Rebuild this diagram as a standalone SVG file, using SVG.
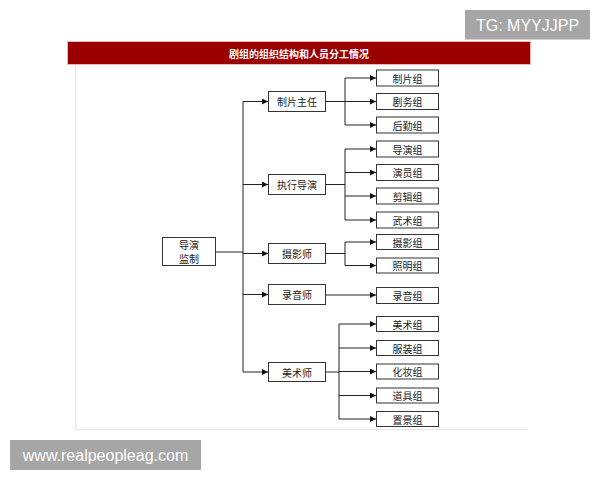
<svg xmlns="http://www.w3.org/2000/svg" width="600" height="480" viewBox="0 0 600 480">
<defs>
<marker id="arr" viewBox="0 0 8 8" refX="8" refY="4" markerWidth="6" markerHeight="6" markerUnits="userSpaceOnUse" orient="auto"><path d="M0,0 L8,4 L0,8 Z" fill="#111"/></marker>
<style>
.box{fill:#fff;stroke:#333;stroke-width:1}
.t{font-family:"Noto Sans CJK SC","Liberation Sans",sans-serif;font-size:10px;fill:#222;text-anchor:middle;dominant-baseline:central}
.c{fill:none;stroke:#222;stroke-width:1}
.a{marker-end:url(#arr)}
.wm{font-family:"Liberation Sans",Arial,sans-serif;fill:#fff}
</style>
</defs>
<rect width="600" height="480" fill="#fff"/>
<g id="frame">
<line x1="75.5" y1="65" x2="75.5" y2="429.5" stroke="#e6e6e6" stroke-width="1"/>
<line x1="75.5" y1="429.5" x2="528" y2="429.5" stroke="#e6e6e6" stroke-width="1"/>
</g>
<g id="title">
<rect x="67.5" y="41.5" width="463" height="23" fill="#9a0000" stroke="#f3b5b5" stroke-width="1"/>
<text x="299" y="53" font-family="Noto Sans CJK SC,sans-serif" font-size="10" font-weight="bold" fill="#fff" text-anchor="middle" dominant-baseline="central">剧组的组织结构和人员分工情况</text>
</g>
<g id="connectors">
<path class="c" d="M216,252 H243"/>
<path class="c" d="M243,101.5 V372"/>
<path class="c a" d="M243,101.5 H268"/>
<path class="c a" d="M243,184.5 H268"/>
<path class="c a" d="M243,253.5 H268"/>
<path class="c a" d="M243,294.5 H268"/>
<path class="c a" d="M243,372 H268"/>
<path class="c" d="M326,101.5 H345 M345,78 V125"/>
<path class="c a" d="M345,78 H376"/>
<path class="c a" d="M345,101.5 H376"/>
<path class="c a" d="M345,125 H376"/>
<path class="c" d="M326,184.5 H345 M345,149 V220"/>
<path class="c a" d="M345,149 H376"/>
<path class="c a" d="M345,172.5 H376"/>
<path class="c a" d="M345,196 H376"/>
<path class="c a" d="M345,220 H376"/>
<path class="c" d="M326,253.5 H345 M345,242 V265.5"/>
<path class="c a" d="M345,242 H376"/>
<path class="c a" d="M345,265.5 H376"/>
<path class="c a" d="M326,295 H376"/>
<path class="c" d="M326,372 H339 M339,324 V419"/>
<path class="c a" d="M339,324 H376"/>
<path class="c a" d="M339,348 H376"/>
<path class="c a" d="M339,371.5 H376"/>
<path class="c a" d="M339,395.5 H376"/>
<path class="c a" d="M339,419 H376"/>
</g>
<g id="n-root"><rect class="box" x="162.5" y="237.5" width="53" height="28"/><text class="t" x="189" y="244.5">导演</text><text class="t" x="189" y="258.5">监制</text></g>
<g id="n-zpzr"><rect class="box" x="268.5" y="91.5" width="57" height="20"/><text class="t" x="297" y="101.5">制片主任</text></g>
<g id="n-zxdy"><rect class="box" x="268.5" y="174.5" width="57" height="20"/><text class="t" x="297" y="184.5">执行导演</text></g>
<g id="n-sys"><rect class="box" x="268.5" y="243.5" width="57" height="20"/><text class="t" x="297" y="253.5">摄影师</text></g>
<g id="n-lys"><rect class="box" x="268.5" y="284.5" width="57" height="20"/><text class="t" x="297" y="294.5">录音师</text></g>
<g id="n-mss"><rect class="box" x="268.5" y="362.5" width="57" height="19"/><text class="t" x="297" y="372">美术师</text></g>
<g id="n-zpz"><rect class="box" x="376.5" y="70" width="62" height="16"/><text class="t" x="407.5" y="78">制片组</text></g>
<g id="n-jwz"><rect class="box" x="376.5" y="93.5" width="62" height="16"/><text class="t" x="407.5" y="101.5">剧务组</text></g>
<g id="n-hqz"><rect class="box" x="376.5" y="117" width="62" height="16"/><text class="t" x="407.5" y="125">后勤组</text></g>
<g id="n-dyz"><rect class="box" x="376.5" y="141" width="62" height="16"/><text class="t" x="407.5" y="149">导演组</text></g>
<g id="n-yyz"><rect class="box" x="376.5" y="164.5" width="62" height="16"/><text class="t" x="407.5" y="172.5">演员组</text></g>
<g id="n-jjz"><rect class="box" x="376.5" y="188" width="62" height="16"/><text class="t" x="407.5" y="196">剪辑组</text></g>
<g id="n-wsz"><rect class="box" x="376.5" y="212" width="62" height="16"/><text class="t" x="407.5" y="220">武术组</text></g>
<g id="n-syz"><rect class="box" x="376.5" y="234.5" width="62" height="15"/><text class="t" x="407.5" y="242">摄影组</text></g>
<g id="n-zmz"><rect class="box" x="376.5" y="258" width="62" height="15"/><text class="t" x="407.5" y="265.5">照明组</text></g>
<g id="n-lyz"><rect class="box" x="376.5" y="287.5" width="62" height="16"/><text class="t" x="407.5" y="295.5">录音组</text></g>
<g id="n-msz"><rect class="box" x="376.5" y="316.5" width="62" height="15"/><text class="t" x="407.5" y="324">美术组</text></g>
<g id="n-fzz"><rect class="box" x="376.5" y="340.5" width="62" height="15"/><text class="t" x="407.5" y="348">服装组</text></g>
<g id="n-hzz"><rect class="box" x="376.5" y="364" width="62" height="15"/><text class="t" x="407.5" y="371.5">化妆组</text></g>
<g id="n-djz"><rect class="box" x="376.5" y="388" width="62" height="15"/><text class="t" x="407.5" y="395.5">道具组</text></g>
<g id="n-zjz"><rect class="box" x="376.5" y="411.5" width="62" height="15"/><text class="t" x="407.5" y="419">置景组</text></g>
<g id="wm-tg"><rect x="465" y="10" width="125" height="29.5" fill="#a6a6a6"/><text class="wm" x="527.5" y="25" font-size="16" text-anchor="middle" dominant-baseline="central">TG: MYYJJPP</text></g>
<g id="wm-www"><rect x="10" y="440" width="191" height="30" fill="#a6a6a6"/><text class="wm" x="105.5" y="455" font-size="16" text-anchor="middle" dominant-baseline="central">www.realpeopleag.com</text></g>
</svg>
